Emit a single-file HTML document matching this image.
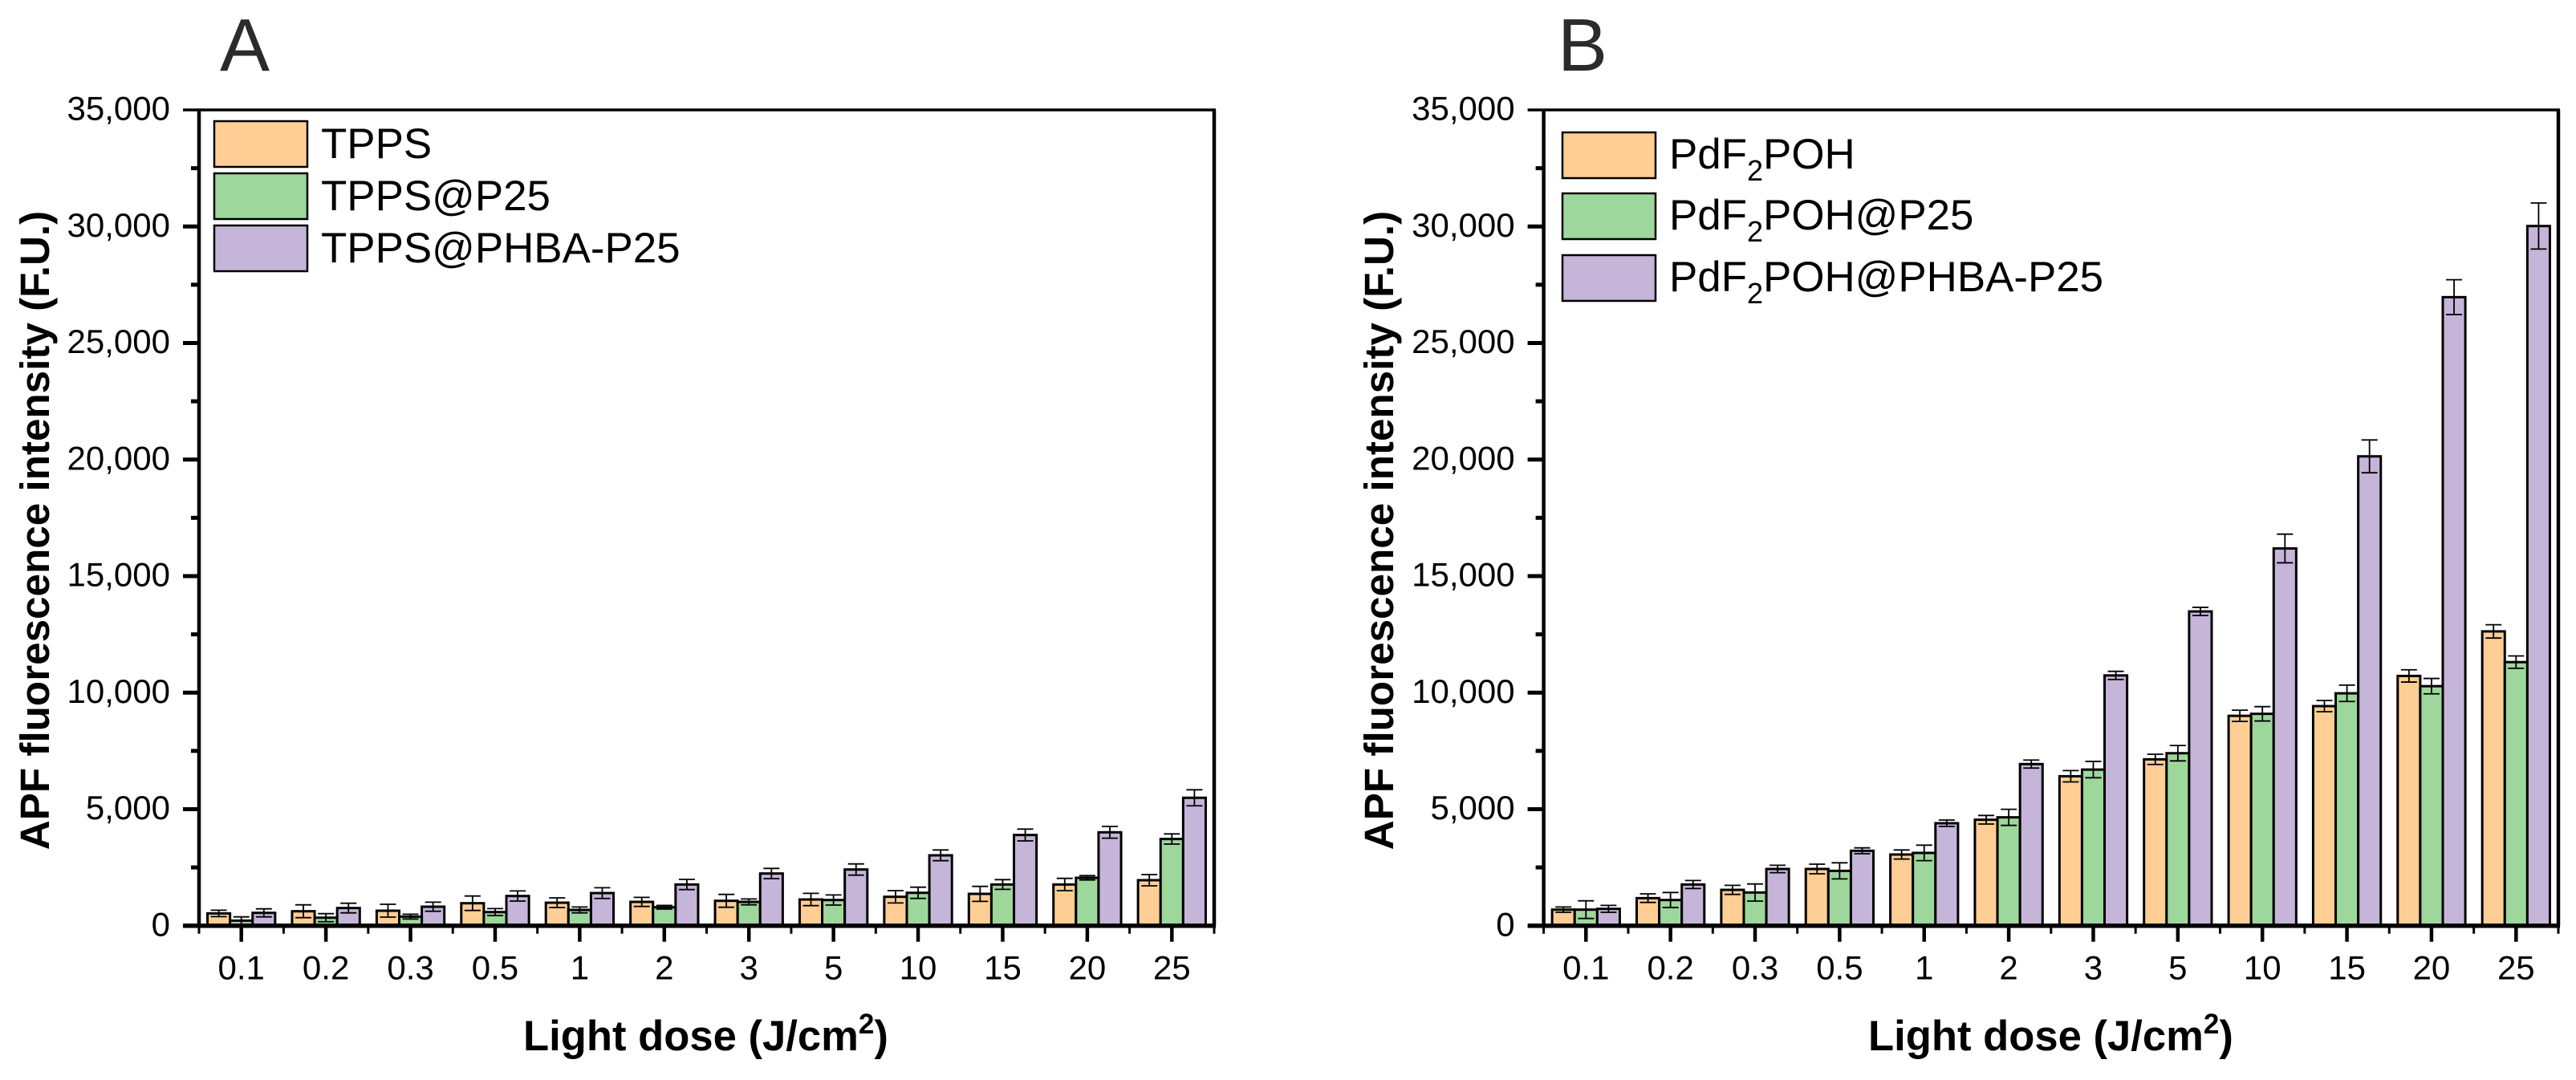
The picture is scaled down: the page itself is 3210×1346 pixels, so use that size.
<!DOCTYPE html>
<html lang="en">
<head>
<meta charset="utf-8">
<title>APF fluorescence intensity vs light dose</title>
<style>
html,body{margin:0;padding:0;background:#fff;}
svg{display:block;font-family:"Liberation Sans",Arial,sans-serif;}
.tick-label{font-size:42px;fill:#000;}
.axis-title{font-weight:bold;fill:#000;}
.y-title{font-size:51.2px;}
.x-title{font-size:52.6px;}
.legend-text{font-size:52.9px;fill:#000;}
.panel-letter{font-size:93px;fill:#2b2b2b;}
</style>
</head>
<body>
<svg id="chart" xmlns="http://www.w3.org/2000/svg" width="3210" height="1346" viewBox="0 0 3210 1346">
  <rect x="0" y="0" width="3210" height="1346" fill="#ffffff"/>

  <g id="panelA"></g>
  <g id="panelB"></g>

  <text class="panel-letter" x="274" y="88">A</text>
  <text class="panel-letter" x="1941" y="88">B</text>

  <text class="axis-title y-title" transform="translate(61,661) rotate(-90)" text-anchor="middle">APF fluorescence intensity (F.U.)</text>
  <text class="axis-title y-title" transform="translate(1736,661) rotate(-90)" text-anchor="middle">APF fluorescence intensity (F.U.)</text>

  <text class="axis-title x-title" x="652" y="1309">Light dose (J/cm<tspan font-size="35" dy="-21">2</tspan><tspan dy="21">)</tspan></text>
  <text class="axis-title x-title" x="2328" y="1309">Light dose (J/cm<tspan font-size="35" dy="-21">2</tspan><tspan dy="21">)</tspan></text>

  <g>
    <g>
      <rect x="267" y="151" width="116" height="57" fill="#FECE94" stroke="#000" stroke-width="2.5"/>
      <text class="legend-text" x="400" y="197">TPPS</text>
    </g>
    <g>
      <rect x="267" y="216" width="116" height="57" fill="#9ED79C" stroke="#000" stroke-width="2.5"/>
      <text class="legend-text" x="400" y="262">TPPS@P25</text>
    </g>
    <g>
      <rect x="267" y="281" width="116" height="57" fill="#C5B5D9" stroke="#000" stroke-width="2.5"/>
      <text class="legend-text" x="400" y="327">TPPS@PHBA-P25</text>
    </g>
  </g>

  <g>
    <g>
      <rect x="1947" y="165" width="116" height="57" fill="#FECE94" stroke="#000" stroke-width="2.5"/>
      <text class="legend-text" x="2080" y="210">PdF<tspan font-size="36" dy="15">2</tspan><tspan dy="-15">POH</tspan></text>
    </g>
    <g>
      <rect x="1947" y="241" width="116" height="57" fill="#9ED79C" stroke="#000" stroke-width="2.5"/>
      <text class="legend-text" x="2080" y="286">PdF<tspan font-size="36" dy="15">2</tspan><tspan dy="-15">POH@P25</tspan></text>
    </g>
    <g>
      <rect x="1947" y="318" width="116" height="57" fill="#C5B5D9" stroke="#000" stroke-width="2.5"/>
      <text class="legend-text" x="2080" y="363">PdF<tspan font-size="36" dy="15">2</tspan><tspan dy="-15">POH@PHBA-P25</tspan></text>
    </g>
  </g>
</svg>

<script>
var categories = ["0.1","0.2","0.3","0.5","1","2","3","5","10","15","20","25"];
var yTicks = [0,5000,10000,15000,20000,25000,30000,35000];
var yTickLabels = ["0","5,000","10,000","15,000","20,000","25,000","30,000","35,000"];

var tppsValues = [528,620,643,964,987,1022,1068,1125,1240,1366,1768,1952];
var tppsErrors = [138,275,275,310,207,195,275,264,264,322,264,241];
var tppsP25Values = [218,344,390,585,677,792,1022,1102,1412,1768,2055,3720];
var tppsP25Errors = [161,173,104,150,126,80,126,218,241,207,92,218];
var tppsPhbaValues = [551,758,815,1274,1400,1768,2239,2411,3019,3892,4007,5488];
var tppsPhbaErrors = [172,206,195,218,230,218,218,241,230,252,252,344];

var pdfValues = [689,1182,1538,2434,3054,4546,6412,7137,9004,9421,10716,12627];
var pdfErrors = [115,184,195,206,195,184,242,220,241,241,264,285];
var pdfP25Values = [689,1102,1424,2353,3123,4649,6698,7400,9091,9970,10277,11309];
var pdfP25Errors = [379,322,367,345,332,345,351,330,308,351,330,264];
var pdfPhbaValues = [723,1768,2434,3214,4397,6934,10738,13483,16185,20137,26967,30019];
var pdfPhbaErrors = [149,172,160,126,138,172,176,176,615,703,747,988];

var NS = 'http://www.w3.org/2000/svg';
var yMax = 35000;
var plotTop = 137;
var plotBottom = 1153.7;
var seriesColors = ['#FECE94','#9ED79C','#C5B5D9'];
var seriesSlugs = ['base','p25','phba-p25'];

function node(tag, parent, attrs) {
  var el = document.createElementNS(NS, tag);
  for (var k in attrs) { el.setAttribute(k, attrs[k]); }
  parent.appendChild(el);
  return el;
}

function drawPanel(root, prefix, left, right, series, errors) {
  var step = (right - left) / categories.length;
  var barW = step * 0.8 / 3;
  function xCenter(i) { return left + step * (i + 0.5); }
  function yScale(v) { return plotBottom - (v / yMax) * (plotBottom - plotTop); }

  var i, s, el;

  var barsGroup = node('g', root, {});
  
  

  for (i = 0; i < categories.length; i++) {
    for (s = 0; s < series.length; s++) {
      var bx = xCenter(i) + (s - 1.5) * barW;
      var top = yScale(series[s][i]);
      el = node('rect', barsGroup, {
        x: bx, y: top, width: barW, height: plotBottom - top,
        fill: seriesColors[s], stroke: '#000', 'stroke-width': 3
      });
      
      
    }
  }

  var errGroup = node('g', root, { stroke: '#000', 'stroke-width': 1.8, fill: 'none' });
  
  

  for (i = 0; i < categories.length; i++) {
    for (s = 0; s < series.length; s++) {
      var cx = xCenter(i) + (s - 1) * barW;
      var hi = yScale(series[s][i] + errors[s][i]);
      var lo = yScale(series[s][i] - errors[s][i]);
      el = node('path', errGroup, {
        d: 'M' + (cx - 10) + ' ' + hi + 'H' + (cx + 10) +
           'M' + cx + ' ' + hi + 'V' + lo +
           'M' + (cx - 10) + ' ' + lo + 'H' + (cx + 10)
      });
      
      
    }
  }

  var axes = node('g', root, { stroke: '#000', fill: 'none' });
  
  

  el = node('line', axes, { x1: left - 20, y1: plotTop, x2: right + 2, y2: plotTop, 'stroke-width': 3.5 });
  
  

  el = node('line', axes, { x1: left, y1: plotTop, x2: left, y2: plotBottom, 'stroke-width': 4.5 });
  
  

  el = node('line', axes, { x1: right, y1: plotTop, x2: right, y2: plotBottom, 'stroke-width': 4.5 });
  
  

  el = node('line', axes, { x1: left - 20, y1: plotBottom, x2: right + 2, y2: plotBottom, 'stroke-width': 5.5 });
  
  

  for (i = 0; i < yTicks.length; i++) {
    var ty = yScale(yTicks[i]);
    if (i > 0 && i < yTicks.length - 1) {
      el = node('line', axes, { x1: left - 20, y1: ty, x2: left, y2: ty, 'stroke-width': 5 });
      
      
    }
    if (i < yTicks.length - 1) {
      var my = yScale((yTicks[i] + yTicks[i + 1]) / 2);
      el = node('line', axes, { x1: left - 10, y1: my, x2: left, y2: my, 'stroke-width': 5 });
      
      
    }
    el = node('text', root, { x: left - 36, y: ty + 12.7, 'text-anchor': 'end', 'class': 'tick-label' });
    el.textContent = yTickLabels[i];
    
    
  }

  for (i = 0; i <= categories.length; i++) {
    var ex = left + step * i;
    el = node('line', axes, { x1: ex, y1: plotBottom, x2: ex, y2: plotBottom + 10, 'stroke-width': 3 });
    
    
  }
  for (i = 0; i < categories.length; i++) {
    el = node('line', axes, { x1: xCenter(i), y1: plotBottom, x2: xCenter(i), y2: plotBottom + 20, 'stroke-width': 4.5 });
    
    
    el = node('text', root, { x: xCenter(i), y: 1220.7, 'text-anchor': 'middle', 'class': 'tick-label' });
    el.textContent = categories[i];
    
    
  }
}

drawPanel(document.getElementById('panelA'), 'panel-a', 248, 1513,
  [tppsValues, tppsP25Values, tppsPhbaValues],
  [tppsErrors, tppsP25Errors, tppsPhbaErrors]);
drawPanel(document.getElementById('panelB'), 'panel-b', 1923.6, 3188,
  [pdfValues, pdfP25Values, pdfPhbaValues],
  [pdfErrors, pdfP25Errors, pdfPhbaErrors]);
</script>
</body>
</html>
